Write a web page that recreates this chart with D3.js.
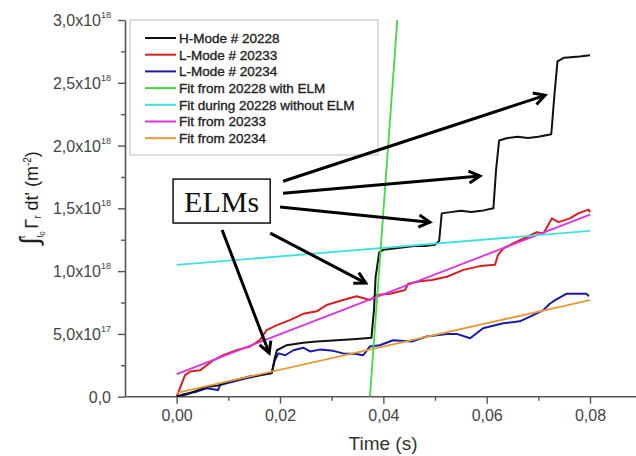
<!DOCTYPE html>
<html>
<head>
<meta charset="utf-8">
<script src="https://cdn.jsdelivr.net/npm/d3@7"></script>
<style>
  body { margin: 0; background: #fff; }
  text { font-family: "Liberation Sans", Arial, sans-serif; }
</style>
</head>
<body>
<script>
// values in units of 1e18 m^-2, time in s
const time20228 = [0, 0.002, 0.004, 0.006, 0.008, 0.010, 0.012, 0.014, 0.016, 0.0184, 0.019, 0.0194, 0.0213, 0.0245, 0.0271, 0.031, 0.0348, 0.0377,
  0.0382, 0.0385, 0.0392, 0.040, 0.042, 0.044, 0.046, 0.048, 0.050, 0.0508, 0.0513, 0.053, 0.055, 0.057, 0.059, 0.0613,
  0.0618, 0.0624, 0.064, 0.066, 0.068, 0.070, 0.0725, 0.0731, 0.0737, 0.075, 0.078, 0.080];
const hmode20228 = [0, 0.02, 0.05, 0.08, 0.09, 0.12, 0.14, 0.16, 0.17, 0.19, 0.31, 0.37, 0.41, 0.43, 0.44, 0.45, 0.46, 0.47,
  0.70, 0.95, 1.15, 1.17, 1.18, 1.19, 1.20, 1.20, 1.21, 1.24, 1.46, 1.47, 1.48, 1.47, 1.48, 1.50,
  1.80, 2.04, 2.06, 2.07, 2.06, 2.07, 2.09, 2.40, 2.67, 2.70, 2.71, 2.72];

const time20233 = [0, 0.0016, 0.0026, 0.0045, 0.0071, 0.009, 0.0116, 0.0142, 0.0161, 0.0174, 0.0194, 0.0219, 0.0245, 0.0271, 0.029,
  0.0322, 0.0348, 0.0374, 0.0387, 0.0413, 0.0442, 0.0448, 0.0471, 0.0494, 0.0523, 0.0555, 0.0587, 0.0616, 0.0622, 0.0632,
  0.0651, 0.0677, 0.0697, 0.071, 0.0726, 0.0739, 0.0761, 0.0777, 0.0797, 0.080];
const lmode20233 = [0, 0.17, 0.20, 0.21, 0.29, 0.33, 0.37, 0.40, 0.45, 0.53, 0.57, 0.61, 0.66, 0.68, 0.73,
  0.77, 0.80, 0.77, 0.81, 0.82, 0.85, 0.90, 0.92, 0.93, 0.955, 1.01, 1.04, 1.05, 1.13, 1.18,
  1.22, 1.27, 1.31, 1.30, 1.42, 1.39, 1.42, 1.46, 1.49, 1.47];

const time20234 = [0, 0.0013, 0.0039, 0.0058, 0.008, 0.0084, 0.011, 0.0135, 0.0161, 0.0184, 0.019, 0.0197, 0.021, 0.0226, 0.0245,
  0.0258, 0.0277, 0.0303, 0.0322, 0.0348, 0.0361, 0.0374, 0.0393, 0.0419, 0.0455, 0.0484, 0.0523, 0.0542, 0.0568, 0.0593,
  0.0632, 0.0664, 0.069, 0.071, 0.0722, 0.0735, 0.0755, 0.078, 0.0793, 0.0798];
const lmode20234 = [0, 0.02, 0.04, 0.067, 0.053, 0.093, 0.12, 0.146, 0.17, 0.186, 0.29, 0.345, 0.33, 0.37, 0.39,
  0.36, 0.375, 0.365, 0.345, 0.34, 0.33, 0.40, 0.41, 0.45, 0.44, 0.48, 0.50, 0.50, 0.465, 0.545,
  0.585, 0.60, 0.65, 0.69, 0.74, 0.775, 0.82, 0.82, 0.82, 0.80];

// linear fits: [start, end]
const fitElmT = [0.0374, 0.0427], fitElmV = [0, 3.0];
const fitNoElmT = [0, 0.08], fitNoElmV = [1.05, 1.32];
const fit20233T = [0, 0.08], fit20233V = [0.18, 1.45];
const fit20234T = [0, 0.08], fit20234V = [0.03, 0.77];

const legendNames = ["H-Mode # 20228", "L-Mode # 20233", "L-Mode # 20234", "Fit from 20228 with ELM",
  "Fit during 20228 without ELM", "Fit from 20233", "Fit from 20234"];
const colors = ["#111111", "#d42020", "#1a1aa8", "#3fdc3f", "#3fe0e0", "#dc32dc", "#e59a3a"];

const xMajor = [0, 0.02, 0.04, 0.06, 0.08];
const xMinor = [0.01, 0.03, 0.05, 0.07];
const xTickLabels = ["0,00", "0,02", "0,04", "0,06", "0,08"];
const yMajor = [0, 0.5, 1.0, 1.5, 2.0, 2.5, 3.0];
const yMinor = [0.25, 0.75, 1.25, 1.75, 2.25, 2.75];
const yTickMant = ["0,0", "5,0x10", "1,0x10", "1,5x10", "2,0x10", "2,5x10", "3,0x10"];
const yTickExp = ["", "17", "18", "18", "18", "18", "18"];

// ELM arrows, [t, value] start -> end
const elmArrows = [
  [[0.0206, 1.716], [0.0713, 2.40]],
  [[0.0206, 1.62], [0.0587, 1.757]],
  [[0.0200, 1.51], [0.0490, 1.39]],
  [[0.0181, 1.303], [0.0366, 0.905]],
  [[0.0088, 1.327], [0.0179, 0.348]]
];
const elmBox = [[-0.0007, 1.733], [0.0181, 1.383]];

const W = 636, H = 456;
const svg = d3.select("body").append("svg").attr("width", W).attr("height", H);

const x = d3.scaleLinear().domain([-0.01, 0.09]).range([125, 641.7]);
const y = d3.scaleLinear().domain([0, 3.0]).range([396.7, 20]);

svg.append("defs").append("clipPath").attr("id", "plot")
  .append("rect").attr("x", 125).attr("y", 20).attr("width", W - 125).attr("height", 376.7);

// axes
const axisColor = "#555";
const gx = svg.append("g").attr("transform", `translate(0,${y(0)})`)
  .call(d3.axisBottom(x).tickValues(xMajor).tickSize(7).tickPadding(6).tickFormat((d, i) => xTickLabels[i]).tickSizeOuter(0));
svg.append("g").attr("transform", `translate(0,${y(0)})`)
  .call(d3.axisBottom(x).tickValues(xMinor).tickSize(4).tickFormat("").tickSizeOuter(0))
  .call(g => g.select(".domain").remove());
gx.selectAll("text").attr("font-size", 16).attr("fill", "#444");

const gy = svg.append("g").attr("transform", "translate(125,0)")
  .call(d3.axisLeft(y).tickValues(yMajor).tickSize(7).tickFormat("").tickSizeOuter(0));
svg.append("g").attr("transform", "translate(125,0)")
  .call(d3.axisLeft(y).tickValues(yMinor).tickSize(4).tickFormat("").tickSizeOuter(0))
  .call(g => g.select(".domain").remove());

svg.selectAll(".domain").attr("stroke", axisColor).attr("stroke-width", 1.6);
svg.selectAll(".tick line").attr("stroke", axisColor).attr("stroke-width", 1.4);
gx.select(".domain").attr("d", `M125,0H${W}`);

const yLab = gy.selectAll(".tick").append("text")
  .attr("x", -14).attr("dy", "0.35em").attr("text-anchor", "end")
  .attr("fill", "#444").attr("font-size", 16);
yLab.append("tspan").text((d, i) => yTickMant[i]);
yLab.append("tspan").attr("font-size", 9).attr("dy", "-0.9em").text((d, i) => yTickExp[i]);

svg.append("text").attr("x", 383).attr("y", 450).attr("text-anchor", "middle")
  .attr("font-size", 19).attr("fill", "#333").text("Time (s)");

// y label
const yl = svg.append("text").attr("transform", "translate(38,198) rotate(-90)")
  .attr("text-anchor", "middle").attr("font-size", 18).attr("fill", "#222");
yl.append("tspan").attr("font-size", 26).text("\u222B");
yl.append("tspan").attr("font-size", 9).attr("dy", 5).text("t");
yl.append("tspan").attr("font-size", 7).attr("dy", 2).text("0");
yl.append("tspan").attr("font-size", 9).attr("dy", -20).attr("dx", -7).text("t");
yl.append("tspan").attr("dy", 13).attr("dx", 2).text(" \u0393");
yl.append("tspan").attr("font-size", 10).attr("dy", 3).text("r");
yl.append("tspan").attr("dy", -3).text(" dt' (m");
yl.append("tspan").attr("font-size", 10).attr("dy", -7).text("-2");
yl.append("tspan").attr("dy", 7).text(")");

// data
const plot = svg.append("g").attr("clip-path", "url(#plot)");
const line = d3.line().x(d => x(d[0])).y(d => y(d[1]));
const series = [
  [time20228, hmode20228],
  [time20233, lmode20233],
  [time20234, lmode20234],
  [fitElmT, fitElmV],
  [fitNoElmT, fitNoElmV],
  [fit20233T, fit20233V],
  [fit20234T, fit20234V]
];
const order = [2, 1, 0, 6, 5, 4, 3];
order.forEach(i => {
  const pts = d3.zip(series[i][0], series[i][1]);
  plot.append("path").datum(pts).attr("d", line)
    .attr("fill", "none").attr("stroke", colors[i])
    .attr("stroke-width", i < 3 ? 2 : 1.8).attr("stroke-linejoin", "round");
});

// legend
const leg = svg.append("g");
leg.append("rect").attr("x", 130).attr("y", 20).attr("width", 248).attr("height", 135)
  .attr("fill", "#fff").attr("stroke", "#bbb").attr("stroke-width", 1);
legendNames.forEach((name, i) => {
  const ly = 38 + i * 16.7;
  leg.append("line").attr("x1", 145).attr("x2", 176).attr("y1", ly).attr("y2", ly)
    .attr("stroke", colors[i]).attr("stroke-width", 2);
  leg.append("text").attr("x", 179).attr("y", ly).attr("dy", "0.36em")
    .attr("font-size", 13.5).attr("fill", "#222")
    .attr("stroke", "#222").attr("stroke-width", 0.35).text(name);
});

// ELM annotation
svg.append("defs").append("marker").attr("id", "arr")
  .attr("viewBox", "0 0 16 16").attr("refX", 13).attr("refY", 8)
  .attr("markerWidth", 16).attr("markerHeight", 16).attr("markerUnits", "userSpaceOnUse")
  .attr("orient", "auto")
  .append("path").attr("d", "M2,2 L13,8 L2,14").attr("fill", "none")
  .attr("stroke", "#000").attr("stroke-width", 3);

elmArrows.forEach(a => {
  svg.append("line")
    .attr("x1", x(a[0][0])).attr("y1", y(a[0][1]))
    .attr("x2", x(a[1][0])).attr("y2", y(a[1][1]))
    .attr("stroke", "#000").attr("stroke-width", 3).attr("marker-end", "url(#arr)");
});
svg.append("rect")
  .attr("x", x(elmBox[0][0])).attr("y", y(elmBox[0][1]))
  .attr("width", x(elmBox[1][0]) - x(elmBox[0][0])).attr("height", y(elmBox[1][1]) - y(elmBox[0][1]))
  .attr("fill", "#fff").attr("stroke", "#111").attr("stroke-width", 1.5);
svg.append("text")
  .attr("x", (x(elmBox[0][0]) + x(elmBox[1][0])) / 2).attr("y", (y(elmBox[0][1]) + y(elmBox[1][1])) / 2)
  .attr("dy", "0.35em").attr("text-anchor", "middle")
  .style("font-family", "'Liberation Serif', 'Times New Roman', serif")
  .attr("font-size", 30).attr("fill", "#111").text("ELMs");
</script>
</body>
</html>
